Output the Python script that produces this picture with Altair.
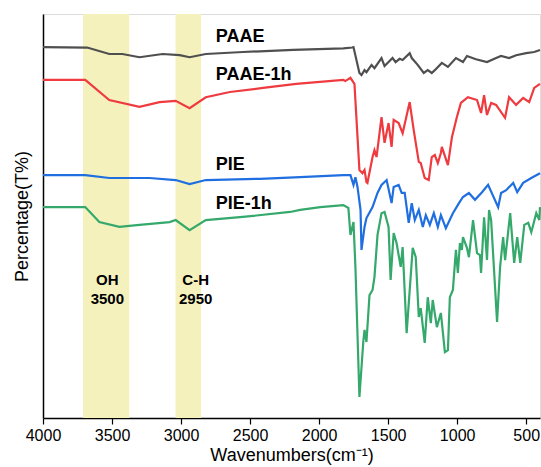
import altair as alt
import pandas as pd

# ---------------- data ----------------
wn_paae = [4000, 3680, 3520, 3425, 3301, 3134, 3010, 2938, 2821, 2552, 2188, 1824, 1759, 1751,
           1708, 1693, 1671, 1657, 1620, 1599, 1548, 1526, 1497, 1468, 1446, 1417, 1395, 1344,
           1329, 1286, 1242, 1213, 1184, 1162, 1111, 1067, 1009, 958, 929, 864, 784, 718, 682,
           624, 573, 500, 442, 400]
t_paae = [91.8, 91.7, 90.1, 90.1, 89.3, 90.1, 89.8, 89.3, 90.1, 90.6, 91.1, 91.5, 91.7, 91.8,
          85.4, 84.9, 86.1, 85.6, 87.4, 86.6, 89.1, 87.1, 88.1, 89.1, 88.1, 88.9, 88.6, 90.3,
          89.1, 87.4, 85.4, 86.1, 85.4, 86.1, 87.9, 86.9, 89.1, 88.1, 89.6, 88.8, 88.1, 89.1, 89.6,
          89.1, 89.8, 90.3, 90.6, 91.1]

wn_paae1h = [4000, 3694, 3520, 3301, 3156, 3039, 2938, 2821, 2646, 2406, 2166, 1824, 1810, 1773,
             1744, 1708, 1686, 1671, 1657, 1650, 1613, 1599, 1584, 1548, 1526, 1497, 1475, 1460,
             1424, 1395, 1344, 1315, 1278, 1264, 1235, 1206, 1184, 1162, 1140, 1118, 1111, 1067,
             1038, 1002, 973, 922, 856, 827, 805, 784, 754, 718, 653, 624, 573, 522, 478, 442, 400]
t_paae1h = [83.7, 83.7, 78.7, 77.0, 78.2, 78.5, 76.7, 79.4, 80.7, 81.7, 82.7, 83.7, 83.4, 84.2,
            82.7, 61.4, 60.6, 61.4, 58.4, 58.2, 64.6, 66.3, 64.6, 74.5, 68.1, 73.0, 67.1, 73.8,
            73.0, 70.5, 78.2, 71.3, 63.4, 63.1, 59.4, 58.9, 64.6, 65.1, 63.1, 65.6, 67.1, 62.6,
            69.5, 74.5, 78.0, 79.4, 78.7, 75.5, 79.9, 75.0, 78.0, 77.5, 74.3, 79.4, 77.5, 79.2,
            78.2, 81.7, 82.7]

wn_pie = [4000, 3694, 3520, 3229, 3039, 2938, 2821, 2428, 2137, 1824, 1788, 1773, 1751, 1737,
          1722, 1700, 1693, 1671, 1657, 1613, 1577, 1548, 1511, 1475, 1460, 1424, 1402, 1380,
          1351, 1329, 1307, 1278, 1249, 1227, 1198, 1169, 1140, 1118, 1082, 1031, 987, 958, 915,
          871, 820, 776, 703, 682, 645, 594, 565, 522, 463, 400]
t_pie = [60.1, 60.1, 59.4, 59.4, 58.9, 57.9, 58.9, 59.2, 59.6, 60.1, 60.1, 60.1, 57.7, 59.6,
         57.2, 51.5, 41.6, 47.3, 49.5, 52.2, 55.7, 57.7, 58.9, 53.2, 57.2, 57.7, 55.7, 55.7,
         48.3, 53.2, 49.0, 51.5, 47.3, 50.2, 47.8, 50.7, 47.3, 50.2, 47.0, 50.7, 53.2, 54.7, 55.7,
         54.0, 55.9, 57.7, 52.2, 55.7, 56.4, 58.2, 55.9, 58.2, 59.4, 60.6]

wn_pie1h = [4000, 3694, 3592, 3447, 3301, 3083, 3039, 2938, 2821, 2574, 2210, 2137, 1992, 1824,
            1788, 1773, 1751, 1737, 1708, 1679, 1671, 1657, 1635, 1613, 1599, 1577, 1548, 1526,
            1497, 1482, 1460, 1439, 1409, 1395, 1366, 1322, 1300, 1278, 1264, 1235, 1213, 1191,
            1177, 1147, 1118, 1089, 1067, 1053, 1031, 1009, 995, 980, 966, 958, 929, 915, 885,
            856, 835, 827, 805, 784, 769, 754, 711, 689, 667, 653, 616, 587, 565, 543, 514, 485,
            463, 427, 405, 400]
t_pie1h = [52.2, 52.2, 48.5, 47.3, 47.8, 48.5, 49.0, 46.5, 49.0, 49.7, 51.0, 51.5, 52.2, 52.7,
           52.0, 45.3, 48.5, 37.4, 5.2, 19.3, 21.8, 18.8, 30.4, 31.7, 34.9, 45.3, 50.7, 51.0,
           47.3, 34.2, 45.8, 43.3, 37.4, 42.3, 21.0, 42.1, 39.8, 25.0, 27.2, 18.6, 29.9, 23.5,
           29.2, 22.5, 26.0, 16.3, 16.8, 29.9, 31.7, 41.6, 35.9, 43.3, 41.6, 44.8, 42.1, 39.8, 49.0,
           40.8, 40.3, 35.9, 49.7, 39.1, 51.5, 49.0, 23.8, 37.4, 44.8, 39.1, 50.7, 38.4, 44.8, 38.4,
           47.8, 48.3, 46.0, 50.7, 49.0, 52.2]

series_names = ["PAAE", "PAAE-1h", "PIE", "PIE-1h"]
series_colors = ["#4f4f4f", "#ef3b3f", "#1f6fe0", "#35a86b"]

band_start = [3710, 3040]
band_end = [3375, 2855]

series_label_x = [2748, 2748, 2748, 2748]
series_label_y = [94.2, 84.9, 62.6, 53.0]

band_label_text = ["OH", "3500", "C-H", "2950"]
band_label_x = [3534, 3534, 2894, 2894]
band_label_y = [34.2, 29.5, 34.2, 29.5]

tick_values = list(range(4000, 499, -250))

# ---------------- tables ----------------
rows = []
for name, wns, ts in zip(series_names, [wn_paae, wn_paae1h, wn_pie, wn_pie1h],
                         [t_paae, t_paae1h, t_pie, t_pie1h]):
    for i, (w, t) in enumerate(zip(wns, ts)):
        rows.append({"series": name, "wn": w, "t": t, "i": i})
spectra = pd.DataFrame(rows)

bands = pd.DataFrame({"x0": band_start, "x1": band_end, "y0": [0, 0], "y1": [100, 100]})
slabels = pd.DataFrame({"x": series_label_x, "y": series_label_y, "text": series_names})
blabels = pd.DataFrame({"x": band_label_x, "y": band_label_y, "text": band_label_text})

W, H = 497, 404
FONT = "Liberation Sans"

xscale = alt.Scale(domain=[4000, 400], nice=False, zero=False)
yscale = alt.Scale(domain=[0, 100], nice=False, zero=False)

xaxis = alt.Axis(
    values=tick_values,
    format="d",
    labelExpr="datum.value % 500 == 0 ? format(datum.value, 'd') : ''",
    title="Wavenumbers(cm⁻¹)",
    grid=False,
    domainColor="black",
    domainWidth=1.5,
    tickColor="black",
    tickWidth=1.2,
    tickSize={"condition": {"test": "datum.value % 500 == 0", "value": 6}, "value": 4},
    labelFont=FONT,
    labelFontSize=16,
    labelColor="black",
    labelPadding=3,
    labelFlush=False,
    labelOverlap=False,
    titleFont=FONT,
    titleFontSize=18,
    titleFontWeight="normal",
    titleColor="black",
    titlePadding=3,
)
yaxis = alt.Axis(
    title="Percentage(T%)",
    labels=False,
    ticks=False,
    grid=False,
    domainColor="black",
    domainWidth=1.5,
    titleFont=FONT,
    titleFontSize=18,
    titleFontWeight="normal",
    titleColor="black",
    titlePadding=12,
)

band_layer = alt.Chart(bands).mark_rect(color="#f5f1bd", opacity=1).encode(
    x=alt.X("x0:Q", scale=xscale, axis=xaxis),
    x2="x1:Q",
    y=alt.Y("y0:Q", scale=yscale, axis=yaxis),
    y2="y1:Q",
)

line_layer = alt.Chart(spectra).mark_line(strokeWidth=2.2).encode(
    x=alt.X("wn:Q", scale=xscale),
    y=alt.Y("t:Q", scale=yscale),
    color=alt.Color("series:N", scale=alt.Scale(domain=series_names, range=series_colors),
                    legend=None),
    order="i:Q",
)

slabel_layer = alt.Chart(slabels).mark_text(
    align="left", baseline="middle", font=FONT, fontSize=18, fontWeight="bold", color="black"
).encode(x=alt.X("x:Q", scale=xscale), y=alt.Y("y:Q", scale=yscale), text="text:N")

blabel_layer = alt.Chart(blabels).mark_text(
    align="center", baseline="middle", font=FONT, fontSize=15, fontWeight="bold", color="black"
).encode(x=alt.X("x:Q", scale=xscale), y=alt.Y("y:Q", scale=yscale), text="text:N")

chart = alt.layer(band_layer, line_layer, slabel_layer, blabel_layer).properties(
    width=W,
    height=H,
    autosize=alt.AutoSizeParams(type="none"),
    padding={"left": 43, "top": 14, "right": 1, "bottom": 49},
).configure_view(stroke="black", strokeWidth=1.5).configure(background="white")

chart.save("out.html", embed_options={"renderer": "svg", "actions": False})
